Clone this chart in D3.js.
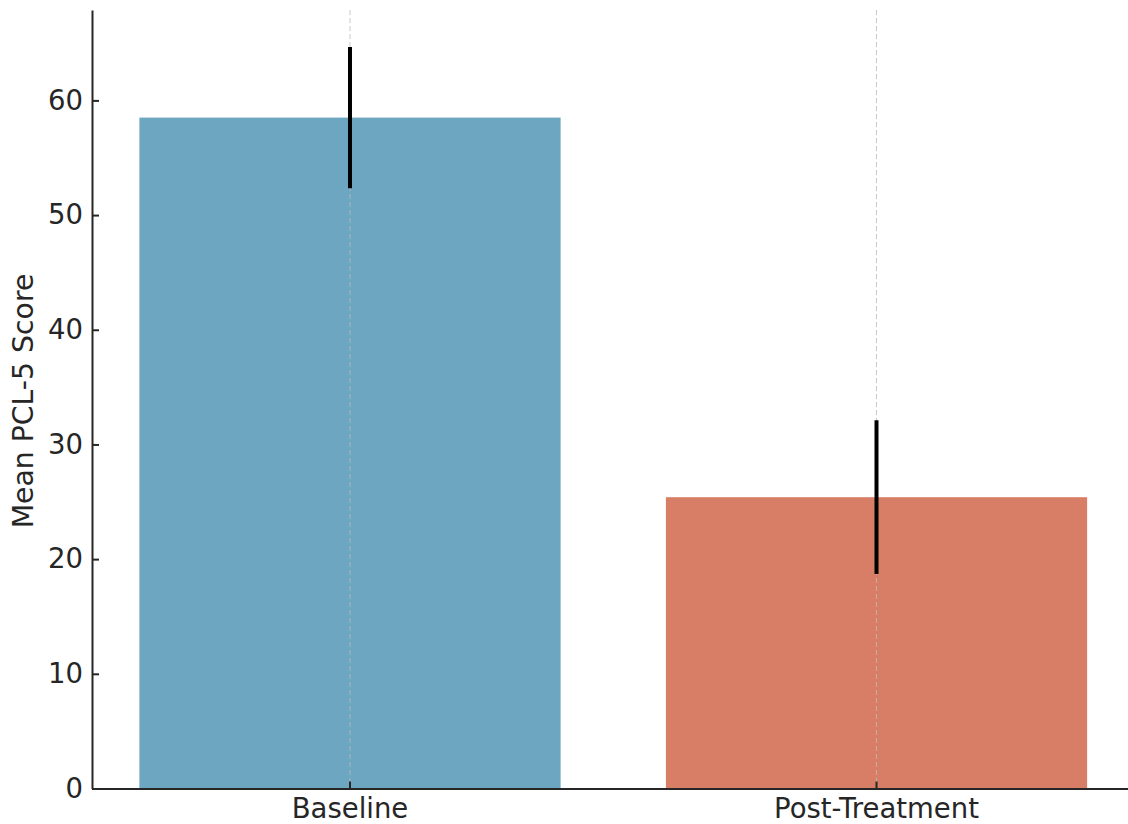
<!DOCTYPE html>
<html lang="en">
<style>
body { margin: 0; background: #fff; }
svg { display: block; }
text { font-family: "DejaVu Sans", sans-serif; }
.axis path, .axis line { stroke: #262626; stroke-width: 2px; }
.axis text { fill: #262626; font-size: 27.5px; font-family: "DejaVu Sans", sans-serif; }
.grid line { stroke: #bbb; stroke-width: 1px; stroke-dasharray: 5,3; stroke-opacity: 0.8; }
.err { stroke: #000; stroke-width: 4px; }
</style>
<svg width="1128" height="824"></svg>
<script src="https://d3js.org/d3.v7.min.js"></script>
<script>
var categories = ["Baseline", "Post-Treatment"];
var means = [58.5, 25.4];
var errors = [6.15, 6.7];
var colors = ["#6ca6c1", "#d97e66"];
var yTicks = [0, 10, 20, 30, 40, 50, 60];

var data = categories.map(function(c, i) {
    return {cat: c, mean: means[i], err: errors[i], color: colors[i]};
});

var svg = d3.select("svg");
var mLeft = 92, mRight = 1134.5, mTop = 10, mBottom = 788.5;

var xScale = d3.scaleBand()
    .domain(categories)
    .range([mLeft, mRight])
    .paddingInner(0.2)
    .paddingOuter(0.09);

var yMax = d3.max(data, function(d) { return d.mean + d.err; }) * 1.05;
var yScale = d3.scaleLinear()
    .domain([0, yMax])
    .range([mBottom, mTop]);

// bars
svg.append("g").selectAll("rect")
    .data(data)
    .enter().append("rect")
        .attr("x", function(d) { return xScale(d.cat); })
        .attr("y", function(d) { return yScale(d.mean); })
        .attr("width", xScale.bandwidth())
        .attr("height", function(d) { return yScale(0) - yScale(d.mean); })
        .attr("fill", function(d) { return d.color; });

// dashed vertical grid at category centres
svg.append("g")
    .attr("class", "grid")
    .selectAll("line")
    .data(categories)
    .enter().append("line")
        .attr("x1", function(d) { return xScale(d) + xScale.bandwidth() / 2; })
        .attr("x2", function(d) { return xScale(d) + xScale.bandwidth() / 2; })
        .attr("y1", mTop)
        .attr("y2", mBottom);

// error bars (no caps)
svg.append("g").selectAll("line")
    .data(data)
    .enter().append("line")
        .attr("class", "err")
        .attr("x1", function(d) { return xScale(d.cat) + xScale.bandwidth() / 2; })
        .attr("x2", function(d) { return xScale(d.cat) + xScale.bandwidth() / 2; })
        .attr("y1", function(d) { return yScale(d.mean + d.err); })
        .attr("y2", function(d) { return yScale(d.mean - d.err); });

// axes, ticks pointing inward
var xAxis = svg.append("g")
    .attr("class", "axis")
    .attr("transform", "translate(0," + mBottom + ")")
    .call(d3.axisBottom(xScale).tickSizeInner(-7).tickSizeOuter(0).tickPadding(0));
xAxis.selectAll("text").attr("y", 29).attr("dy", 0);

var yAxis = svg.append("g")
    .attr("class", "axis")
    .attr("transform", "translate(" + mLeft + ",0)")
    .call(d3.axisLeft(yScale).tickValues(yTicks).tickSizeInner(-7).tickSizeOuter(0).tickPadding(9));

svg.append("text")
    .attr("transform", "translate(33,401) rotate(-90)")
    .attr("text-anchor", "middle")
    .attr("fill", "#262626")
    .style("font-size", "28.3px")
    .text("Mean PCL-5 Score");
</script>
</html>
